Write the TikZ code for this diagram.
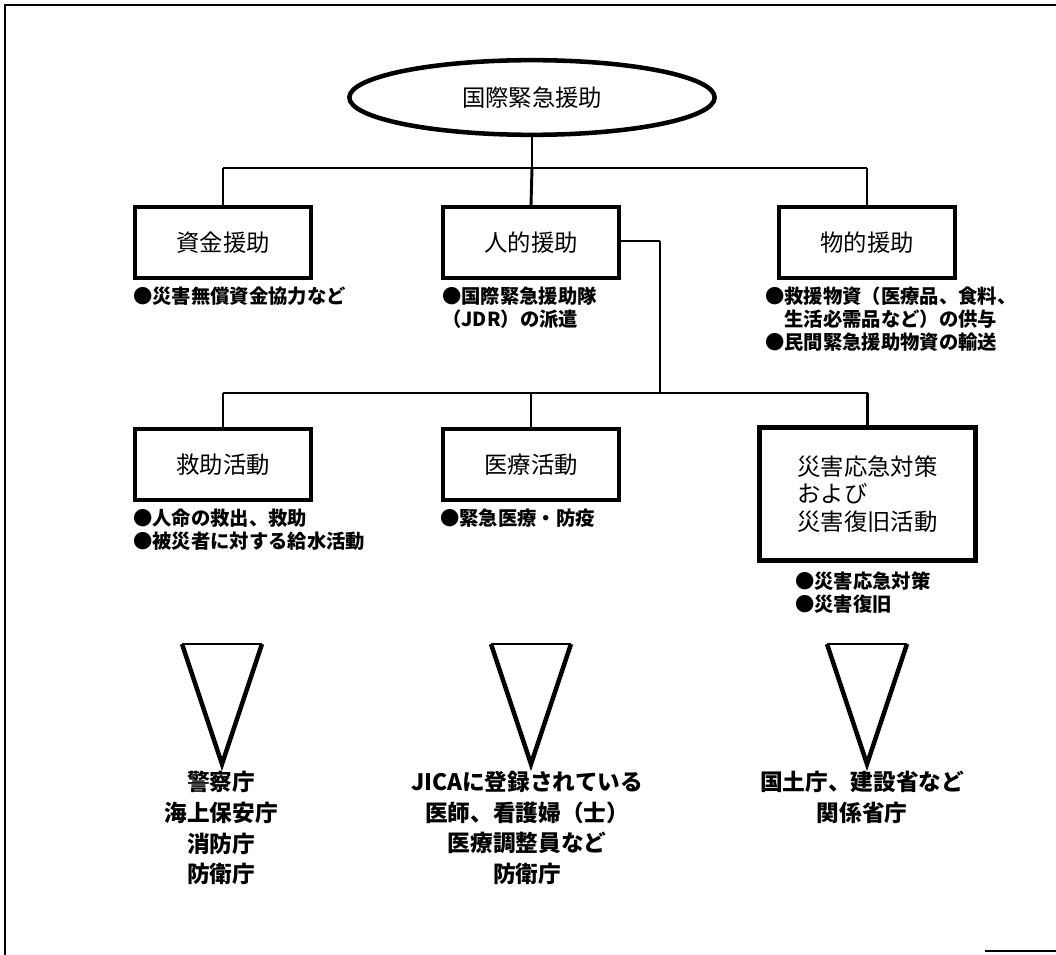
\documentclass[tikz,border=0pt]{standalone}
\usepackage{fontspec}
\usetikzlibrary{shapes.geometric}
\newfontfamily\jp{Noto Sans CJK JP}
\newcommand\boxfont{\jp\fontsize{17.5}{20.5}\selectfont}
\newcommand\notefont{\jp\bfseries\fontsize{14.5}{17.25}\selectfont}
\newcommand\labfont{\jp\bfseries\fontsize{17}{23}\selectfont}
\tikzset{
  box/.style={draw, rectangle, line width=3.4pt, inner sep=0pt,
    minimum width=132pt, minimum height=53pt, font=\boxfont},
  conn/.style={line width=1.1pt},
  vconn/.style={line width=2.2pt},
  note/.style={anchor=north west, inner sep=0pt, align=left, font=\notefont},
  lab/.style={anchor=north, inner sep=0pt, align=center, font=\labfont},
  tri/.style={line width=3.4pt, line join=miter, miter limit=20},
  tritop/.style={line width=2pt},
  frame/.style={line width=1.1pt}
}
\begin{document}
\begin{tikzpicture}[x=0.75pt, y=-0.75pt]
\useasboundingbox (0,0) rectangle (1056,955);
% frame
\draw[frame] (5,955) -- (5,5) -- (1056,5);
\draw[line width=1.6pt] (985,951) -- (1056,951);

% top ellipse
\node[draw, ellipse, line width=3.4pt, inner sep=0pt,
  minimum width=274pt, minimum height=56pt, font=\boxfont] (top) at (532,97.5) {国際緊急援助};

% row 1
\node[box] (b1) at (223,242.5) {資金援助};
\node[box] (b2) at (531,242.5) {人的援助};
\node[box] (b3) at (867,242.5) {物的援助};
\coordinate (bar1) at (532,168);
\draw[vconn] (top.south) -- (bar1);
\draw[conn] (b1.north |- bar1) -- (b3.north |- bar1);
\draw[vconn] (b1.north |- bar1) -- (b1.north);
\draw[vconn] (bar1) -- (b2.north);
\draw[vconn] (b3.north |- bar1) -- (b3.north);

\node[note] (n1) at (133,287) {●災害無償資金協力など};
\node[note] (n2) at (442,287) {●国際緊急援助隊\\（JDR）の派遣};
\node[note] (n3) at (765,287) {●救援物資（医療品、食料、\\　生活必需品など）の供与\\●民間緊急援助物資の輸送};

% row 2
\node[box] (c1) at (223,464.5) {救助活動};
\node[box] (c2) at (531,464.5) {医療活動};
\node[box, minimum width=162pt, minimum height=100pt, align=left, font=\jp\fontsize{17.5}{20.5}\selectfont] (c3) at (867.5,494) {災害応急対策\\および\\災害復旧活動};

\coordinate (elbow) at (660,241);
\coordinate (bar2) at (660,393);
\draw[conn] (b2.east |- elbow) -- (elbow);
\draw[vconn] (elbow) -- (bar2);
\draw[conn] (c1.north |- bar2) -- (c3.north |- bar2);
\draw[vconn] (c1.north |- bar2) -- (c1.north);
\draw[vconn] (c2.north |- bar2) -- (c2.north);
\draw[vconn] (c3.north |- bar2) -- (c3.north);

\node[note] (m1) at (133,509) {●人命の救出、救助\\●被災者に対する給水活動};
\node[note] (m2) at (440,509) {●緊急医療・防疫};
\node[note] (m3) at (795,572) {●災害応急対策\\●災害復旧};

% triangles
\foreach \cx/\nm in {222/t1, 531/t2, 867/t3}{
  \coordinate (\nm a) at (\cx-40,644);
  \coordinate (\nm b) at (\cx+40,644);
  \coordinate (\nm c) at (\cx,764);
  \draw[tri] (\nm a) -- (\nm c) -- (\nm b);
  \draw[tritop] (\nm a) -- (\nm b);
}

% labels
\node[lab] (l1) at (221,771) {警察庁\\海上保安庁\\消防庁\\防衛庁};
\node[lab] (l2) at (527,771) {JICAに登録されている\\医師、看護婦（士）\\医療調整員など\\防衛庁};
\node[lab] (l3) at (862,771) {国土庁、建設省など\\関係省庁};
\end{tikzpicture}
\end{document}
